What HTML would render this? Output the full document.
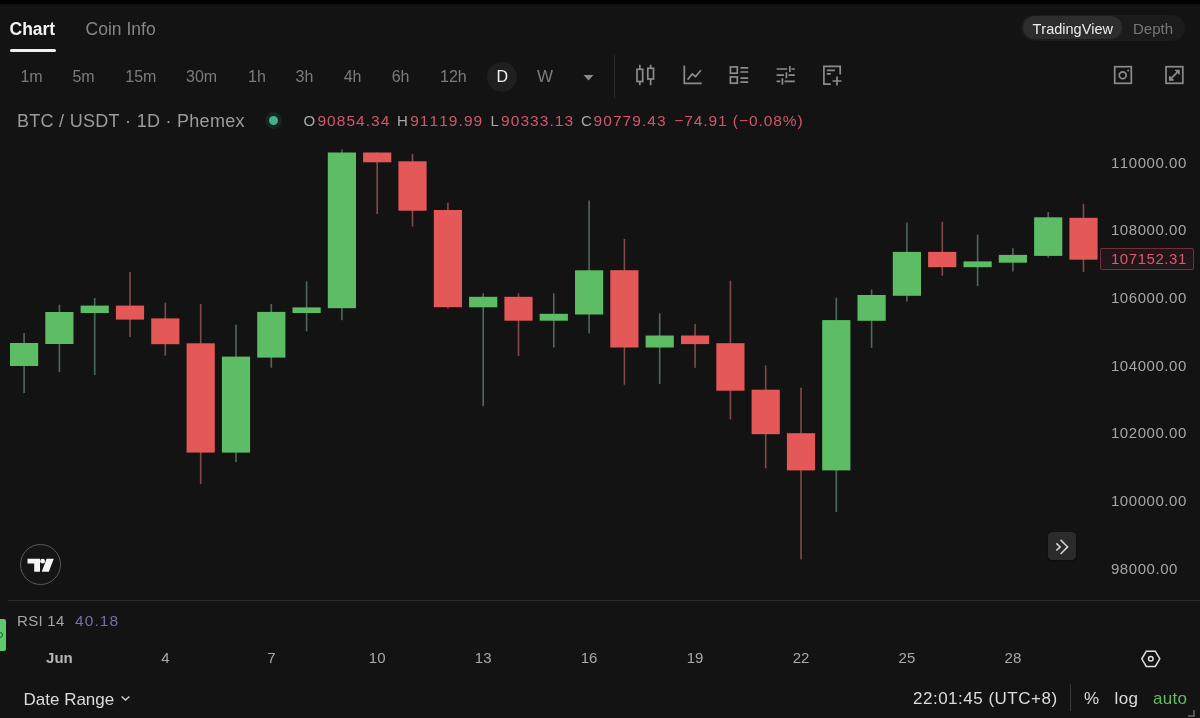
<!DOCTYPE html>
<html lang="en">
<head>
<meta charset="utf-8">
<title>BTC / USDT Chart</title>
<style>
*{box-sizing:border-box;margin:0;padding:0}
html,body{width:1200px;height:718px;overflow:hidden;background:#131313}
body{position:relative;font-family:"Liberation Sans",sans-serif;color:#8a8a8a;font-kerning:none}
.abs{position:absolute;white-space:nowrap}
.topbar{left:0;top:0;width:1200px;height:4.500px;background:linear-gradient(#020202 0,#020202 66%,#131313 100%)}
.tab{top:19px;font-size:17.500px;line-height:20px}
.tab.on{left:9.500px;color:#f2f2f2;font-weight:bold}
.tab.off{left:85.600px;color:#858585}
.uline{left:10px;top:49px;width:46px;height:3px;border-radius:2px;background:#f0f0f0}
.toggle{left:1021px;top:14.500px;width:164px;height:26.500px;border-radius:13.500px;background:#1b1b1b}
.toggle .sel{left:2px;top:1.500px;width:98.500px;height:23px;border-radius:12px;background:#2d2d2d}
.toggle span{top:4px;font-size:15px;line-height:18px}
.tf{top:68px;font-size:16px;line-height:18px;color:#7c7c7c}
.dcirc{left:487px;top:62px;width:30px;height:30px;border-radius:15px;background:#1f1f1f}
.vsep{background:#2a2a2a;width:1px}
.legend{top:110px;font-size:18px;line-height:22px;color:#9b9b9b;left:17px;letter-spacing:.28px}
.ohlc{top:111px;font-size:15.5px;line-height:20px;letter-spacing:1.05px}
.ohlc.k{color:#a8a8a8;font-size:15px;letter-spacing:0}
.ohlc.v{color:#d4566a}
.ax{left:1110.900px;font-size:15px;line-height:18px;color:#a6a6a6;letter-spacing:.57px;margin-top:-.5px}
.date{top:649.300px;font-size:15px;line-height:18px;color:#a9a9a9;transform:translateX(-50%)}
.bot{top:689.400px;font-size:17px;line-height:20px;color:#dcdcdc}
</style>
</head>
<body>
<div class="abs topbar"></div>
<div class="abs tab on">Chart</div>
<div class="abs tab off">Coin Info</div>
<div class="abs uline"></div>

<div class="abs toggle">
  <div class="abs sel"></div>
  <span class="abs" style="left:11.500px;top:5px;color:#ececec;font-size:14.500px">TradingView</span>
  <span class="abs" style="left:112px;top:5px;color:#777">Depth</span>
</div>

<div class="abs tf" style="left:20.400px">1m</div>
<div class="abs tf" style="left:72.400px">5m</div>
<div class="abs tf" style="left:125.300px">15m</div>
<div class="abs tf" style="left:186px">30m</div>
<div class="abs tf" style="left:248px">1h</div>
<div class="abs tf" style="left:295.500px">3h</div>
<div class="abs tf" style="left:343.700px">4h</div>
<div class="abs tf" style="left:391.700px">6h</div>
<div class="abs tf" style="left:440px">12h</div>
<div class="abs dcirc"></div>
<div class="abs tf" style="left:496.500px;color:#f0f0f0">D</div>
<div class="abs tf" style="left:537px;letter-spacing:0;font-size:17px">W</div>
<svg class="abs" style="left:583px;top:75px" width="11" height="6" viewBox="0 0 11 6"><path d="M0.5 0h10L5.5 5.6z" fill="#8a8a8a"/></svg>
<div class="abs vsep" style="left:614px;top:55px;height:43px"></div>

<!-- toolbar icons -->
<svg class="abs" style="left:0;top:0" width="1200" height="100" viewBox="0 0 1200 100" fill="none" stroke="#8c8c8c" stroke-width="1.700">
  <!-- candles -->
  <rect x="637" y="69.300" width="5.700" height="12.200"/><path d="M639.850 64.800v4.500M639.850 81.500v3.700"/>
  <rect x="647.800" y="68.300" width="5.700" height="10.700"/><path d="M650.650 64.800v3.500M650.650 79v6.200"/>
  <!-- indicators -->
  <path d="M684.300 65.500v17.800h17.400"/><path d="M687.600 79.600l4.700-5.600 3.300 2.600 5.300-6.400"/>
  <!-- templates -->
  <rect x="730.400" y="66.900" width="6.900" height="6.300"/><rect x="730.400" y="76.900" width="6.900" height="6.300"/>
  <path d="M740.400 67.800h7.800M740.400 72h7.800M740.400 78.200h7.800M740.400 82.200h7.800"/>
  <!-- settings sliders -->
  <path d="M776.600 69h10.600M791.500 69h3.300M789.900 66v6M776.600 75.100h7.400M788.500 75.100h6.300M786.400 72.200v6M776.600 81.300h3.600M784.500 81.300h10.300M782.400 78.300v6.500"/>
  <!-- note plus -->
  <path d="M830.800 84.200h-6.900v-17.800h16.300v8"/><path d="M826.800 70.300h8.200M826.800 73.800h4"/><path d="M837 76.600v8.800M832.600 81h8.800"/>
  <!-- camera -->
  <rect x="1114.700" y="66.700" width="16.600" height="16.600"/><circle cx="1122.700" cy="75.300" r="3.400"/><circle cx="1128.100" cy="70.500" r="1" fill="#8c8c8c" stroke="none"/>
  <!-- fullscreen -->
  <rect x="1166" y="66.700" width="16.800" height="16.600"/><path d="M1170.300 79.300l8-8.200"/><path d="M1175 70.300h4.100v4.100M1169.600 75.900v4.100h4.100" fill="#8c8c8c" stroke-width="1.300"/>
</svg>

<!-- legend -->
<div class="abs legend">BTC / USDT · 1D · Phemex</div>
<div class="abs" style="left:265px;top:112px;width:17px;height:17px;border-radius:9px;background:#16251f"></div>
<div class="abs" style="left:269px;top:116px;width:9px;height:9px;border-radius:5px;background:#3fb28c"></div>
<div class="abs ohlc k" style="left:303.600px">O</div><div class="abs ohlc v" style="left:317.400px">90854.34</div>
<div class="abs ohlc k" style="left:397.100px">H</div><div class="abs ohlc v" style="left:410.200px">91119.99</div>
<div class="abs ohlc k" style="left:490.600px">L</div><div class="abs ohlc v" style="left:501.100px">90333.13</div>
<div class="abs ohlc k" style="left:581px">C</div><div class="abs ohlc v" style="left:593.600px">90779.43</div>
<div class="abs ohlc v" style="left:674.200px;letter-spacing:.93px">−74.91 (−0.08%)</div>

<!-- chart -->
<svg class="abs" style="left:0;top:0" width="1200" height="718" viewBox="0 0 1200 718">
<rect x="23.3" y="333.0" width="1.6" height="60.0" fill="#50685a"/>
<rect x="10.0" y="343.0" width="28.2" height="23.0" fill="#5cbd64"/>
<rect x="58.6" y="304.6" width="1.6" height="67.4" fill="#50685a"/>
<rect x="45.3" y="312.0" width="28.2" height="32.0" fill="#5cbd64"/>
<rect x="93.9" y="298.0" width="1.6" height="77.0" fill="#50685a"/>
<rect x="80.6" y="305.6" width="28.2" height="7.4" fill="#5cbd64"/>
<rect x="129.2" y="272.0" width="1.6" height="65.0" fill="#804b48"/>
<rect x="115.9" y="305.6" width="28.2" height="14.0" fill="#e55858"/>
<rect x="164.5" y="302.6" width="1.6" height="53.1" fill="#804b48"/>
<rect x="151.2" y="318.4" width="28.2" height="25.8" fill="#e55858"/>
<rect x="199.9" y="303.9" width="1.6" height="180.1" fill="#804b48"/>
<rect x="186.6" y="343.3" width="28.2" height="109.3" fill="#e55858"/>
<rect x="235.2" y="324.7" width="1.6" height="137.3" fill="#50685a"/>
<rect x="221.9" y="356.6" width="28.2" height="96.0" fill="#5cbd64"/>
<rect x="270.5" y="303.9" width="1.6" height="63.8" fill="#50685a"/>
<rect x="257.2" y="311.9" width="28.2" height="45.7" fill="#5cbd64"/>
<rect x="305.8" y="281.4" width="1.6" height="50.0" fill="#50685a"/>
<rect x="292.5" y="307.4" width="28.2" height="5.6" fill="#5cbd64"/>
<rect x="341.1" y="149.5" width="1.6" height="170.7" fill="#50685a"/>
<rect x="327.8" y="152.5" width="28.2" height="155.7" fill="#5cbd64"/>
<rect x="376.4" y="152.5" width="1.6" height="61.5" fill="#804b48"/>
<rect x="363.1" y="152.5" width="28.2" height="9.8" fill="#e55858"/>
<rect x="411.7" y="153.8" width="1.6" height="72.7" fill="#804b48"/>
<rect x="398.4" y="161.3" width="28.2" height="49.4" fill="#e55858"/>
<rect x="447.1" y="202.7" width="1.6" height="105.7" fill="#804b48"/>
<rect x="433.8" y="210.0" width="28.2" height="97.2" fill="#e55858"/>
<rect x="482.4" y="293.3" width="1.6" height="112.8" fill="#50685a"/>
<rect x="469.1" y="296.8" width="28.2" height="10.5" fill="#5cbd64"/>
<rect x="517.7" y="293.3" width="1.6" height="62.7" fill="#804b48"/>
<rect x="504.4" y="296.8" width="28.2" height="23.9" fill="#e55858"/>
<rect x="553.0" y="293.4" width="1.6" height="54.1" fill="#50685a"/>
<rect x="539.7" y="313.8" width="28.2" height="6.9" fill="#5cbd64"/>
<rect x="588.3" y="200.5" width="1.6" height="132.9" fill="#50685a"/>
<rect x="575.0" y="270.3" width="28.2" height="44.2" fill="#5cbd64"/>
<rect x="623.6" y="238.9" width="1.6" height="145.8" fill="#804b48"/>
<rect x="610.3" y="270.2" width="28.2" height="77.3" fill="#e55858"/>
<rect x="658.9" y="313.3" width="1.6" height="70.6" fill="#50685a"/>
<rect x="645.6" y="335.5" width="28.2" height="12.0" fill="#5cbd64"/>
<rect x="694.3" y="324.0" width="1.6" height="43.8" fill="#804b48"/>
<rect x="681.0" y="335.5" width="28.2" height="8.6" fill="#e55858"/>
<rect x="729.6" y="280.7" width="1.6" height="138.8" fill="#804b48"/>
<rect x="716.3" y="343.2" width="28.2" height="47.5" fill="#e55858"/>
<rect x="764.9" y="365.5" width="1.6" height="102.8" fill="#804b48"/>
<rect x="751.6" y="389.7" width="28.2" height="44.5" fill="#e55858"/>
<rect x="800.2" y="387.7" width="1.6" height="171.7" fill="#804b48"/>
<rect x="786.9" y="433.2" width="28.2" height="37.2" fill="#e55858"/>
<rect x="835.5" y="297.8" width="1.6" height="214.2" fill="#50685a"/>
<rect x="822.2" y="320.1" width="28.2" height="150.3" fill="#5cbd64"/>
<rect x="870.8" y="289.5" width="1.6" height="58.3" fill="#50685a"/>
<rect x="857.5" y="295.0" width="28.2" height="25.8" fill="#5cbd64"/>
<rect x="906.1" y="222.6" width="1.6" height="78.9" fill="#50685a"/>
<rect x="892.8" y="251.9" width="28.2" height="43.9" fill="#5cbd64"/>
<rect x="941.5" y="221.8" width="1.6" height="53.9" fill="#804b48"/>
<rect x="928.1" y="251.9" width="28.2" height="15.3" fill="#e55858"/>
<rect x="976.8" y="234.6" width="1.6" height="51.4" fill="#50685a"/>
<rect x="963.5" y="261.4" width="28.2" height="5.8" fill="#5cbd64"/>
<rect x="1012.1" y="248.1" width="1.6" height="23.4" fill="#50685a"/>
<rect x="998.8" y="254.9" width="28.2" height="7.8" fill="#5cbd64"/>
<rect x="1047.4" y="212.0" width="1.6" height="45.7" fill="#50685a"/>
<rect x="1034.1" y="217.3" width="28.2" height="38.6" fill="#5cbd64"/>
<rect x="1082.7" y="203.8" width="1.6" height="68.2" fill="#804b48"/>
<rect x="1069.4" y="217.8" width="28.2" height="41.9" fill="#e55858"/>
</svg>

<!-- price axis -->
<div class="abs ax" style="top:154px">110000.00</div>
<div class="abs ax" style="top:221px">108000.00</div>
<div class="abs ax" style="top:289px">106000.00</div>
<div class="abs ax" style="top:357px">104000.00</div>
<div class="abs ax" style="top:424px">102000.00</div>
<div class="abs ax" style="top:492px">100000.00</div>
<div class="abs ax" style="top:560px">98000.00</div>
<div class="abs" style="left:1099.500px;top:248.200px;width:94.500px;height:21.800px;border:1px solid #74303a;background:#23161a;border-radius:2px"></div>
<div class="abs ax" style="top:250px;color:#dc5a6c">107152.31</div>

<!-- scroll button -->
<div class="abs" style="left:1048px;top:532.300px;width:28.200px;height:28.200px;border-radius:4.500px;background:#2b2b2b;box-shadow:0 1px 2px rgba(0,0,0,.5)"></div>
<svg class="abs" style="left:1048px;top:532px" width="28" height="28" viewBox="0 0 28 28" fill="none" stroke="#d0d0d0" stroke-width="1.600"><path d="M8.300 11.400l3.900 3.500-3.900 3.600M12.600 7.900l7 7-7 7.100"/></svg>

<!-- TV logo -->
<div class="abs" style="left:20px;top:544px;width:41px;height:41px;border-radius:21px;border:1px solid #5a5a5a;background:#151515"></div>
<svg class="abs" style="left:0;top:540px" width="80" height="50" viewBox="0 540 80 50"><g fill="#f4f4f4"><path d="M27.500 558.700H40V571.700H34.200V563.500H27.500Z"/><circle cx="42.600" cy="561.200" r="2.400"/><path d="M46.600 558.700H53.800L48.800 571.700H41.700Z"/></g></svg>

<div class="abs" style="left:8px;top:600px;width:1192px;height:1px;background:#2b2b2b"></div>

<!-- RSI -->
<div class="abs" style="left:0;top:619px;width:6.300px;height:32px;border-radius:0 2px 2px 0;background:#5fc96b"></div><div class="abs" style="left:-3.500px;top:631.500px;width:6px;height:6px;border-radius:3px;border:1.300px solid #1d5a2b"></div>
<div class="abs" style="left:17px;top:612px;font-size:15px;line-height:18px;color:#a5a5a5;letter-spacing:.3px">RSI 14</div>
<div class="abs" style="left:75px;top:612px;font-size:15.500px;line-height:18px;color:#7a6cab;letter-spacing:1.100px">40.18</div>

<!-- dates -->
<div class="abs date" style="left:59.4px;font-weight:bold;color:#b5b5b5">Jun</div>
<div class="abs date" style="left:165.300px">4</div>
<div class="abs date" style="left:271.300px">7</div>
<div class="abs date" style="left:377.200px">10</div>
<div class="abs date" style="left:483.200px">13</div>
<div class="abs date" style="left:589.100px">16</div>
<div class="abs date" style="left:695px">19</div>
<div class="abs date" style="left:801px">22</div>
<div class="abs date" style="left:906.900px">25</div>
<div class="abs date" style="left:1012.900px">28</div>
<svg class="abs" style="left:1140px;top:648px" width="22" height="22" viewBox="0 0 22 22" fill="none" stroke="#e0e0e0" stroke-width="1.500"><path d="M6.300 3.200h9l4.500 7.600-4.500 7.600h-9l-4.500-7.600z"/><circle cx="10.800" cy="10.800" r="2.300"/></svg>

<!-- bottom bar -->
<div class="abs bot" style="left:23.500px;top:689.900px">Date Range</div>
<svg class="abs" style="left:120px;top:694px" width="11" height="8" viewBox="0 0 11 8" fill="none" stroke="#cfcfcf" stroke-width="1.400"><path d="M1.600 2.400l3.900 3.700 3.900-3.700"/></svg>
<div class="abs bot" style="left:913px;letter-spacing:.5px">22:01:45 (UTC+8)</div>
<div class="abs vsep" style="left:1070px;top:684px;height:27px;background:#3a3a3a"></div>
<div class="abs bot" style="left:1084px">%</div>
<div class="abs bot" style="left:1114.500px;letter-spacing:.4px">log</div>
<div class="abs bot" style="left:1153px;color:#5fbb65;letter-spacing:.25px">auto</div>
<svg class="abs" style="left:1187px;top:709px" width="8" height="8" viewBox="0 0 8 8" fill="none" stroke="#6a6a6a" stroke-width="1.500"><path d="M1 7h6V1"/></svg>
</body>
</html>
